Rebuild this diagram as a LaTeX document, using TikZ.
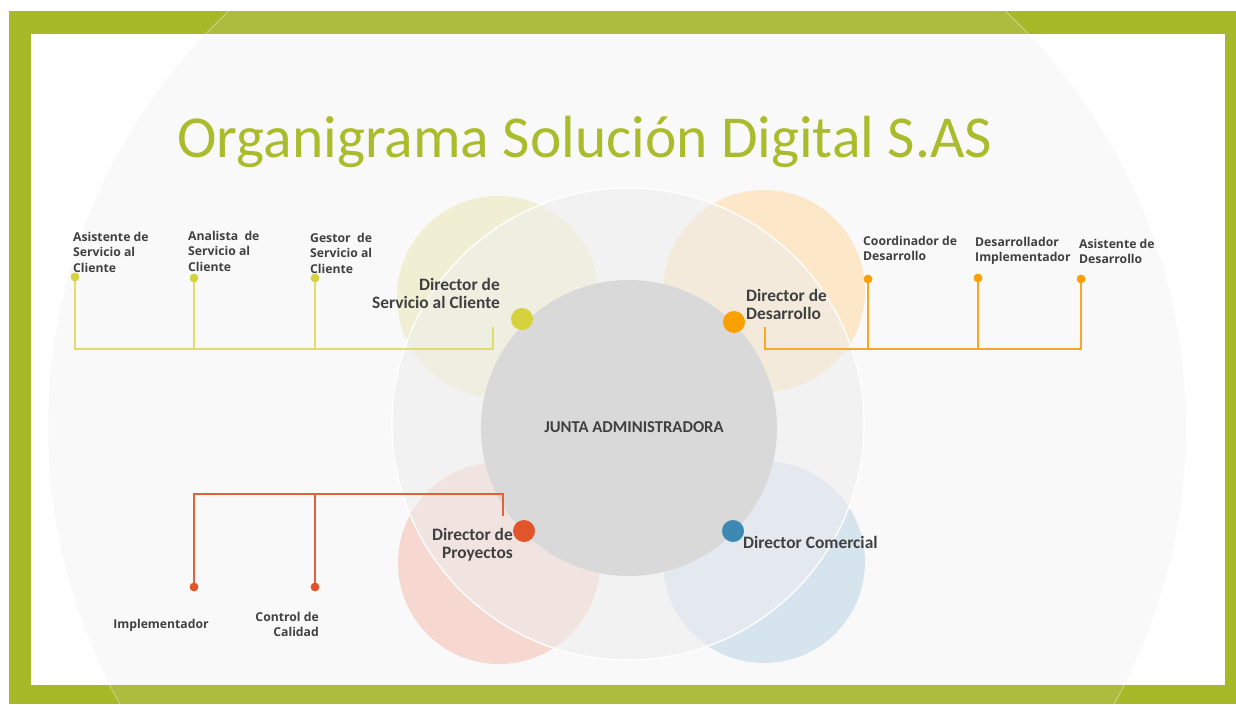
\documentclass[tikz,border=0pt]{standalone}
\usepackage{fontspec}
\setmainfont{Carlito}
\newfontfamily\subfont{Open Sans}
\definecolor{frame}{RGB}{167,184,41}
\definecolor{titlegreen}{RGB}{170,187,44}
\definecolor{bgc}{RGB}{214,214,214}
\definecolor{txt}{RGB}{64,64,64}
\definecolor{ycirc}{RGB}{240,239,211}
\definecolor{ocirc}{RGB}{252,231,200}
\definecolor{rcirc}{RGB}{246,216,208}
\definecolor{bcirc}{RGB}{214,228,238}
\definecolor{midgray}{RGB}{238,238,238}
\definecolor{centgray}{RGB}{217,217,217}
\definecolor{ydot}{RGB}{213,210,62}
\definecolor{odot}{RGB}{250,160,0}
\definecolor{rdot}{RGB}{226,84,42}
\definecolor{bdot}{RGB}{62,136,180}
\definecolor{yline}{RGB}{226,220,106}
\definecolor{oline}{RGB}{249,168,38}
\definecolor{rline}{RGB}{226,96,58}
\tikzset{
  bigdot/.style={circle, minimum size=22pt, inner sep=0pt},
  smalldot/.style={circle, minimum size=8.5pt, inner sep=0pt},
  dirlabel/.style={text=txt, inner sep=0pt, font=\bfseries\fontsize{17.4}{18}\selectfont},
  sublabel/.style={text=txt, inner sep=0pt, font=\subfont\bfseries\fontsize{12.2}{15.5}\selectfont},
  conn/.style={line width=1.4pt}
}
\begin{document}
\begin{tikzpicture}[x=1pt,y=-1pt]
\useasboundingbox (0,0) rectangle (1236,704);
\fill[white] (0,0) rectangle (1236,704);
\fill[frame] (9,11) rectangle (1236,704);
\fill[white] (31,34) rectangle (1225,685);
\begin{scope}
  \clip (9,11) rectangle (1236,704);
  \fill[bgc, fill opacity=0.13] (617,427) circle[radius=569];
  \draw[white, opacity=0.35, line width=1pt] (617,427) circle[radius=569];
\end{scope}

% title
\node[text=titlegreen, inner sep=0pt, anchor=base, font=\fontsize{59.5}{72}\selectfont] (title) at (585,157) {Organigrama Solución Digital S.AS};

% coloured circles
\fill[ycirc] (498,297) circle[radius=101];
\fill[ocirc] (764,291) circle[radius=101];
\fill[rcirc] (499,563) circle[radius=101];
\fill[bcirc] (764,562) circle[radius=101];
% middle circle
\draw[white, line width=1.3pt, fill=midgray, fill opacity=0.55] (628,424) circle[radius=236];
% central circle
\node[circle, fill=centgray, minimum size=296pt, inner sep=0pt] (junta) at (629,428) {};
\node[text=txt, inner sep=0pt, font=\bfseries\fontsize{16.6}{18}\selectfont] (juntatext) at (634,427) {JUNTA ADMINISTRADORA};

% director dots
\node[bigdot, fill=ydot] (dsc) at (522,319) {};
\node[bigdot, fill=odot] (ddes) at (734,322) {};
\node[bigdot, fill=rdot] (dpro) at (524,531) {};
\node[bigdot, fill=bdot] (dcom) at (733,531) {};

% director labels
\node[dirlabel, align=right, anchor=east] (lsc) at (500,293) {Director de\\Servicio al Cliente};
\node[dirlabel, align=left, anchor=west] (ldes) at (746,304) {Director de\\Desarrollo};
\node[dirlabel, align=right, anchor=east] (lpro) at (513,545) {Director de\\Proyectos};
\node[dirlabel, anchor=west] (lcom) at (743,542) {Director Comercial};

% yellow branch
\coordinate (ysc) at (493,327);
\coordinate (yj) at (493,349);
\node[smalldot, fill=ydot] (ya1) at (75,277) {};
\node[smalldot, fill=ydot] (ya2) at (194,278) {};
\node[smalldot, fill=ydot] (ya3) at (315,278) {};
\draw[conn, yline] (ysc) -- (yj) -| (ya1.center);
\draw[conn, yline] (ya2.center) -- (ya2 |- yj);
\draw[conn, yline] (ya3.center) -- (ya3 |- yj);
\node[smalldot, fill=ydot] at (ya1) {};
\node[smalldot, fill=ydot] at (ya2) {};
\node[smalldot, fill=ydot] at (ya3) {};
\node[sublabel, align=left, anchor=north west] (t1) at (73,232) {Asistente de\\Servicio al\\Cliente};
\node[sublabel, align=left, anchor=north west] (t2) at (188,231) {Analista\ \ de\\Servicio al\\Cliente};
\node[sublabel, align=left, anchor=north west] (t3) at (310,233) {Gestor\ \ de\\Servicio al\\Cliente};

% orange branch
\coordinate (odes) at (765,327);
\coordinate (oj) at (765,349);
\node[smalldot, fill=odot] (oa1) at (868,279) {};
\node[smalldot, fill=odot] (oa2) at (978,278) {};
\node[smalldot, fill=odot] (oa3) at (1081,279) {};
\draw[conn, oline] (odes) -- (oj) -| (oa3.center);
\draw[conn, oline] (oa1.center) -- (oa1 |- oj);
\draw[conn, oline] (oa2.center) -- (oa2 |- oj);
\node[smalldot, fill=odot] at (oa1) {};
\node[smalldot, fill=odot] at (oa2) {};
\node[smalldot, fill=odot] at (oa3) {};
\node[sublabel, align=left, anchor=north west] (t4) at (863,236) {Coordinador de\\Desarrollo};
\node[sublabel, align=left, anchor=north west] (t5) at (975,237) {Desarrollador\\Implementador};
\node[sublabel, align=left, anchor=north west] (t6) at (1079,239) {Asistente de\\Desarrollo};

% red branch
\coordinate (rpro) at (503,516);
\coordinate (rj) at (503,494);
\node[smalldot, fill=rdot] (ra1) at (194,587) {};
\node[smalldot, fill=rdot] (ra2) at (315,587) {};
\draw[conn, rline] (rpro) -- (rj) -| (ra1.center);
\draw[conn, rline] (ra2.center) -- (ra2 |- rj);
\node[smalldot, fill=rdot] at (ra1) {};
\node[smalldot, fill=rdot] at (ra2) {};
\node[sublabel, anchor=center] (t7) at (161,625) {Implementador};
\node[sublabel, align=right, anchor=north east] (t8) at (319,612) {Control de\\Calidad};
\end{tikzpicture}
\end{document}
